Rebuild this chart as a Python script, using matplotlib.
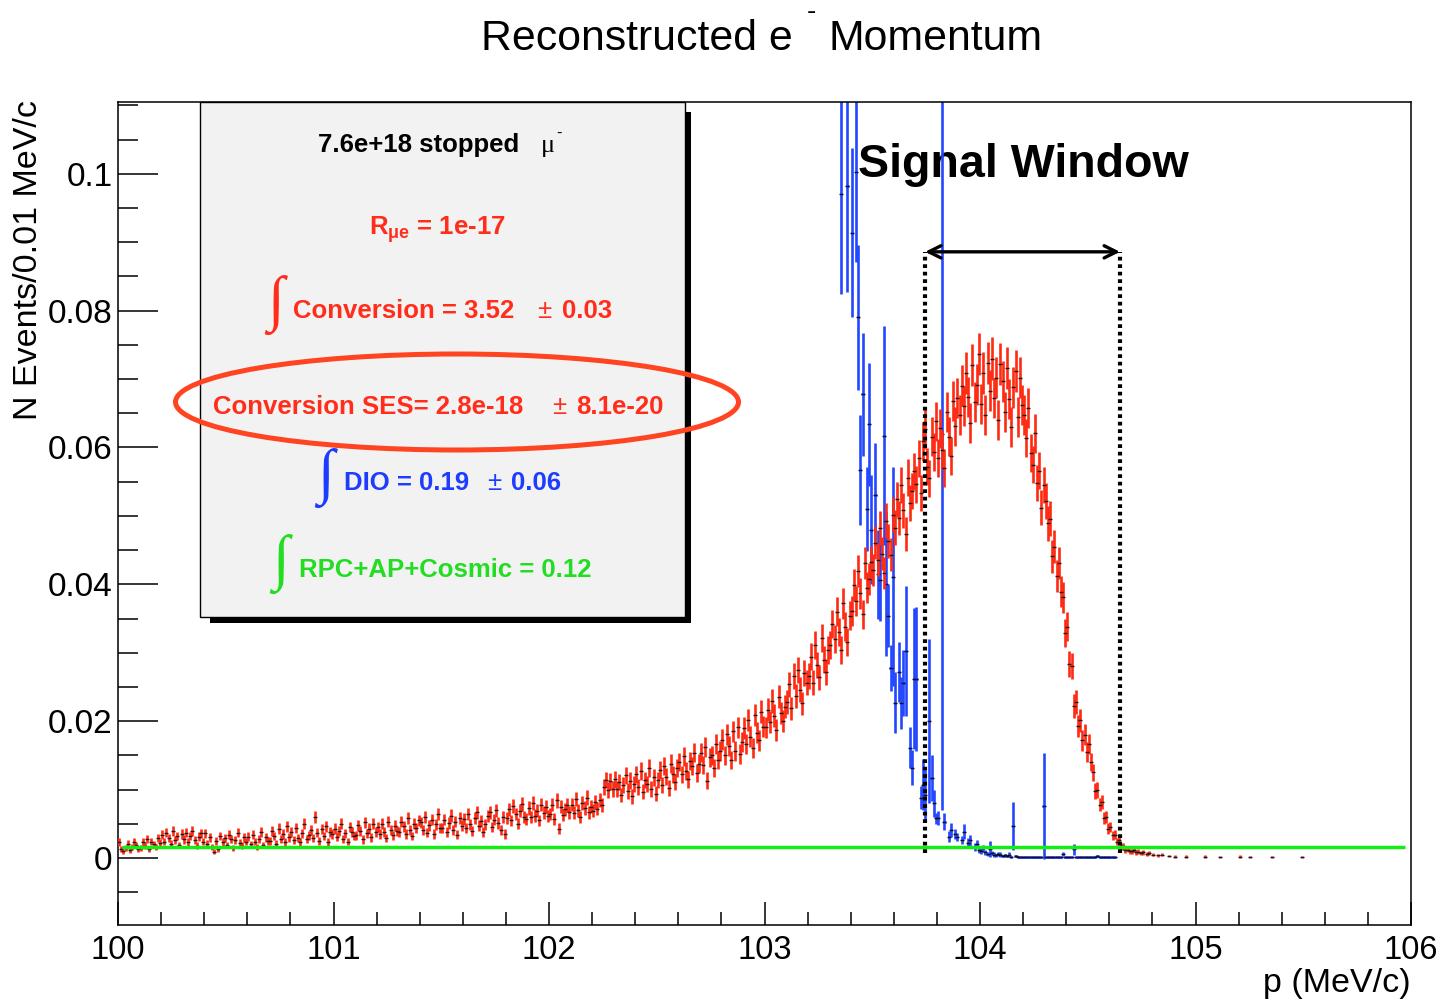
import numpy as np
import matplotlib
matplotlib.use("Agg")
import matplotlib.pyplot as plt
from matplotlib.patches import Rectangle, Ellipse
from matplotlib.ticker import MultipleLocator, FixedLocator

# ---------------- data ----------------
bin_lo = 100.0
bin_width = 0.01
# Conversion electrons, N events / 0.01 MeV/c, in units of 1e-4 (bins from 100.00 to 104.70)
red_vals_e4 = [
    23, 13, 10, 14, 21, 11, 16, 24, 19, 13,
    15, 23, 18, 28, 13, 24, 20, 16, 29, 22,
    34, 24, 37, 29, 21, 39, 26, 32, 19, 35,
    27, 37, 23, 32, 40, 26, 18, 31, 36, 24,
    36, 21, 30, 16, 9, 25, 13, 32, 23, 29,
    19, 34, 28, 15, 26, 37, 22, 18, 30, 24,
    31, 20, 34, 24, 16, 28, 38, 19, 30, 25,
    25, 39, 32, 21, 43, 28, 35, 23, 46, 30,
    38, 26, 44, 29, 23, 36, 50, 28, 33, 41,
    29, 60, 37, 25, 42, 32, 46, 23, 38, 35,
    43, 31, 39, 50, 28, 36, 24, 45, 38, 32,
    33, 48, 40, 27, 52, 36, 43, 30, 50, 38,
    45, 35, 50, 38, 29, 53, 41, 33, 47, 40,
    38, 53, 46, 35, 58, 41, 32, 50, 44, 55,
    52, 41, 60, 37, 48, 56, 35, 49, 64, 44,
    44, 56, 38, 51, 62, 41, 53, 34, 59, 47,
    57, 44, 64, 49, 39, 59, 67, 47, 54, 38,
    49, 61, 67, 45, 56, 70, 51, 41, 60, 35,
    58, 71, 55, 76, 64, 50, 69, 79, 60, 57,
    73, 60, 81, 62, 69, 55, 78, 66, 75, 61,
    64, 78, 57, 84, 43, 75, 63, 71, 77, 67,
    78, 66, 86, 70, 60, 81, 73, 88, 67, 75,
    69, 82, 72, 85, 77, 104, 114, 99, 112, 101,
    115, 101, 111, 92, 106, 121, 98, 113, 90, 108,
    122, 104, 127, 97, 114, 108, 131, 101, 118, 94,
    114, 129, 106, 134, 119, 102, 138, 122, 111, 131,
    140, 122, 149, 127, 115, 142, 134, 154, 124, 138,
    154, 136, 162, 113, 147, 150, 131, 167, 143, 156,
    173, 150, 181, 163, 143, 185, 156, 191, 152, 169,
    190, 167, 202, 177, 161, 209, 183, 172, 214, 192,
    191, 217, 199, 229, 208, 187, 236, 212, 200, 221,
    228, 254, 219, 266, 237, 275, 246, 226, 270, 256,
    266, 294, 256, 311, 282, 264, 322, 290, 272, 304,
    311, 342, 320, 360, 330, 304, 372, 338, 316, 354,
    361, 399, 376, 420, 387, 356, 431, 395, 408, 432,
    421, 461, 436, 482, 445, 417, 493, 463, 443, 502,
    483, 524, 497, 545, 508, 474, 556, 519, 537, 565,
    546, 584, 533, 609, 627, 572, 555, 616, 594, 638,
    585, 628, 597, 570, 652, 616, 588, 668, 631, 672,
    648, 690, 660, 709, 674, 636, 720, 666, 692, 737,
    664, 709, 648, 724, 683, 730, 672, 702, 640, 722,
    697, 652, 716, 671, 630, 688, 712, 645, 702, 662,
    648, 614, 657, 592, 575, 621, 548, 566, 512, 545,
    522, 489, 496, 441, 455, 412, 431, 389, 381, 329,
    338, 284, 280, 222, 228, 193, 201, 172, 180, 155,
    166, 140, 125, 98, 99, 78, 82, 58, 60, 43,
    45, 33, 34, 24, 26, 16, 17, 11, 12, 10,
]
# sparse conversion tail above 104.7 MeV/c
red_tail_p = [104.705, 104.715, 104.725, 104.735, 104.745, 104.755, 104.775, 104.785,
              104.805, 104.825, 104.845, 104.875, 104.905, 104.955, 105.045, 105.115,
              105.205, 105.255, 105.355, 105.495]
red_tail_e4 = [10, 12, 8, 9, 7, 8, 6, 7, 5, 4, 5, 3, 2, 2, 2, 1, 2, 1, 1, 1]
red_event_weight = 1.3e-4   # per-event weight -> Poisson error sqrt(N)*w

# DIO (decay in orbit): bin centre, value, error
blue_p = [103.355, 103.385, 103.405, 103.425, 103.435, 103.445, 103.455, 103.475, 103.485,
          103.495, 103.515, 103.525, 103.535, 103.555, 103.565, 103.575, 103.585, 103.595,
          103.605, 103.625, 103.635, 103.645, 103.655, 103.675, 103.685, 103.695, 103.705,
          103.725, 103.735, 103.745, 103.765, 103.775, 103.785, 103.795, 103.805, 103.825,
          103.835, 103.855, 103.865, 103.885, 103.895, 103.915, 103.925, 103.945, 103.955,
          103.975, 103.985, 103.995, 104.005, 104.015, 104.025, 104.035, 104.045, 104.055,
          104.065, 104.075, 104.085, 104.095, 104.105, 104.115, 104.125, 104.135, 104.145,
          104.155, 104.165, 104.175]
blue_v = [0.0970, 0.0982, 0.0914, 0.1003, 0.0790, 0.0567, 0.0678, 0.0510, 0.0634,
          0.0480, 0.0531, 0.0415, 0.0406, 0.0617, 0.0400, 0.0354, 0.0278, 0.0411,
          0.0227, 0.0272, 0.0227, 0.0256, 0.0303, 0.0161, 0.0132, 0.0262, 0.0262,
          0.0088, 0.0107, 0.0092, 0.0200, 0.0117, 0.0080, 0.0058, 0.0058, 0.0620,
          0.0053, 0.0031, 0.0041, 0.0035, 0.0031, 0.0026, 0.0038, 0.0022, 0.0026,
          0.0016, 0.0020, 0.0012, 0.0010, 0.0014, 0.0008, 0.0006, 0.0013, 0.0007,
          0.0005, 0.0004, 0.0006, 0.0005, 0.0003, 0.0004, 0.0003, 0.0005, 0.0002,
          0.0047, 0.0003, 0.0002]
blue_e = [0.0145, 0.0155, 0.0124, 0.0132, 0.0106, 0.0080, 0.0090, 0.0062, 0.0090,
          0.0080, 0.0075, 0.0065, 0.0060, 0.0160, 0.0105, 0.0046, 0.0034, 0.0160,
          0.0045, 0.0044, 0.0038, 0.0048, 0.0095, 0.0030, 0.0026, 0.0103, 0.0105,
          0.0017, 0.0037, 0.0037, 0.0120, 0.0034, 0.0020, 0.0008, 0.0010, 0.0550,
          0.0012, 0.0008, 0.0010, 0.0008, 0.0006, 0.0006, 0.0011, 0.0007, 0.0008,
          0.0006, 0.0006, 0.0005, 0.0004, 0.0005, 0.0004, 0.0003, 0.0012, 0.0003,
          0.0003, 0.0002, 0.0003, 0.0003, 0.0002, 0.0002, 0.0002, 0.0003, 0.0001,
          0.0035, 0.0002, 0.0001]
# DIO tail, consecutive bins starting at 104.18 MeV/c, units of 1e-4
blue_tail_start = 104.18
blue_tail_e4 = [1, 1, 1, 1, 1, 1, 1, 1, 1, 1, 1, 76, 1, 1, 1, 1, 1, 1, 1, 1,
                6, 1, 1, 1, 1, 13, 1, 1, 1, 1, 1, 1, 1, 1, 1, 1, 3, 1, 1, 1, 1, 1, 1, 1, 1]
blue_tail_err_e4 = [1, 1, 1, 1, 1, 1, 1, 1, 1, 1, 1, 77, 1, 1, 1, 1, 1, 1, 1, 1,
                    3, 1, 1, 1, 1, 8, 1, 1, 1, 1, 1, 1, 1, 1, 1, 1, 2, 1, 1, 1, 1, 1, 1, 1, 1]

# RPC + AP + Cosmic background level
green_level = 0.00165
green_range = [100.02, 105.97]

# signal window
window = [103.745, 104.65]
window_y = [0.0007, 0.0886]

y_major = [0.0, 0.02, 0.04, 0.06, 0.08, 0.1]
y_major_labels = ["0", "0.02", "0.04", "0.06", "0.08", "0.1"]
x_major = [100, 101, 102, 103, 104, 105, 106]
x_major_labels = ["100", "101", "102", "103", "104", "105", "106"]

# ---------------- style ----------------
plt.rcParams['font.family'] = ['Liberation Sans', 'DejaVu Sans']
plt.rcParams['mathtext.fontset'] = 'custom'
plt.rcParams['mathtext.rm'] = 'Liberation Sans'
plt.rcParams['mathtext.it'] = 'Liberation Sans:italic'
plt.rcParams['mathtext.bf'] = 'Liberation Sans:bold'
plt.rcParams['mathtext.default'] = 'regular'

RED = '#ff2a12'
RED_TXT = '#ff2d1a'
BLUE = '#2346ff'
BLUE_TXT = '#1e3cff'
GREEN = '#12ee12'
GREEN_TXT = '#22dd22'
ELL = '#ff4422'
INT_FAMILY = ['Liberation Serif', 'DejaVu Serif']

W, H = 1441, 1000
fig = plt.figure(figsize=(W / 100, H / 100), dpi=100)


def fx(x):
    return x / W


def fy(y):
    return 1 - y / H


ax = fig.add_axes([fx(118), fy(925), (1411 - 118) / W, (925 - 102) / H])
ax.set_xlim(100, 106)
ax.set_ylim(-0.0098, 0.1105)

# blue DIO
ax.errorbar(blue_p, blue_v, yerr=blue_e, xerr=bin_width / 2, fmt='none', ecolor=BLUE,
            elinewidth=1.9, capsize=0, zorder=2)
bt = np.array(blue_tail_e4) * 1e-4
bt_e = np.array(blue_tail_err_e4) * 1e-4
bt_p = blue_tail_start + bin_width * (np.arange(len(bt)) + 0.5)
ax.errorbar(bt_p, bt, yerr=bt_e, xerr=bin_width / 2, fmt='none', ecolor=BLUE,
            elinewidth=1.9, capsize=0, zorder=2)
ax.plot(blue_p, blue_v, ls='none', marker='_', ms=3, mew=1.0, color='#101010', zorder=2.1)
ax.plot(bt_p, bt, ls='none', marker='_', ms=3, mew=1.0, color='#101040', zorder=2.1)

# red conversion
rv = np.array(red_vals_e4) * 1e-4
rp = bin_lo + bin_width * (np.arange(len(rv)) + 0.5)
rtp = np.array(red_tail_p)
rtv = np.array(red_tail_e4) * 1e-4
allp = np.concatenate([rp, rtp])
allv = np.concatenate([rv, rtv])
alle = np.sqrt(allv * red_event_weight)
ax.errorbar(allp, allv, yerr=alle, fmt='none', ecolor=RED, elinewidth=1.9, capsize=0, zorder=3)
ax.plot(allp, allv, ls='none', marker='_', ms=3, mew=1.0, color='#1a1a1a', zorder=3.1)

# green background
ax.plot(green_range, [green_level, green_level], color=GREEN, lw=2.5, zorder=4,
        solid_capstyle='butt')

# signal window
for xw in window:
    ax.plot([xw, xw], window_y, color='k', lw=3.0, linestyle=(0, (0.9, 0.9)), zorder=5)
ax.annotate('', xy=(window[1], window_y[1]), xytext=(window[0], window_y[1]),
            arrowprops=dict(arrowstyle='<->', color='k', lw=2.4, shrinkA=0, shrinkB=0,
                            mutation_scale=22), zorder=5)
ax.text(103.434, 0.09956, "Signal Window", fontsize=33.6, fontweight='bold', ha='left',
        va='baseline', color='k', zorder=1.5)

# axes / ticks
for s in ax.spines.values():
    s.set_linewidth(1.1)
ax.xaxis.set_major_locator(FixedLocator(x_major))
ax.xaxis.set_minor_locator(MultipleLocator(0.2))
ax.yaxis.set_major_locator(FixedLocator(y_major))
ax.yaxis.set_minor_locator(MultipleLocator(0.005))
ax.set_xticklabels(x_major_labels)
ax.set_yticklabels(y_major_labels)
ax.tick_params(axis='y', which='major', direction='in', length=28.8, width=1.1, right=False,
               labelsize=24, pad=4)
ax.tick_params(axis='y', which='minor', direction='in', length=14.4, width=1.1, right=False)
ax.tick_params(axis='x', which='major', direction='in', length=16.6, width=1.1, top=False,
               labelsize=23.5, pad=7.5)
ax.tick_params(axis='x', which='minor', direction='in', length=9.4, width=1.1, top=False)

# axis titles
fig.text(fx(29), fy(100), "N Events/0.01 MeV/c", rotation=90, ha='center', va='top',
         fontsize=24.5)
fig.text(fx(1411), fy(992), "p (MeV/c)", ha='right', va='baseline', fontsize=24.5)

# title
fig.text(fx(793), fy(50), "Reconstructed e", ha='right', va='baseline', fontsize=30.8)
fig.text(fx(811), fy(12), "-", ha='center', va='center', fontsize=20)
fig.text(fx(828), fy(50), "Momentum", ha='left', va='baseline', fontsize=30.8)

# stats box with shadow
fig.add_artist(Rectangle((fx(210), fy(623)), (691 - 210) / W, (623 - 112) / H,
                         transform=fig.transFigure, facecolor='black', edgecolor='none', zorder=5))
fig.add_artist(Rectangle((fx(200), fy(617)), (685 - 200) / W, (617 - 102) / H,
                         transform=fig.transFigure, facecolor='#f2f2f2', edgecolor='black',
                         lw=1.0, zorder=6))

TS = 18.5
fig.text(fx(318), fy(152), "7.6e+18 stopped", ha='left', va='baseline', fontsize=TS,
         fontweight='bold', color='black', zorder=7)
fig.text(fx(541), fy(152), "μ", ha='left', va='baseline', fontsize=19,
         family=['Liberation Serif', 'DejaVu Serif'], color='black', zorder=7)
fig.text(fx(559), fy(138), "-", ha='center', va='baseline', fontsize=12, color='black', zorder=7)

fig.text(fx(369), fy(235), r"R$_{\mu e}$ = 1e-17", ha='left', va='baseline', fontsize=TS,
         fontweight='bold', color=RED_TXT, zorder=7)

INT_FS = 44
fig.text(fx(276), fy(305), "∫", ha='center', va='center', fontsize=INT_FS, color=RED_TXT,
         family=INT_FAMILY, zorder=7)
fig.text(fx(293), fy(318), "Conversion = 3.52", ha='left', va='baseline', fontsize=TS,
         fontweight='bold', color=RED_TXT, zorder=7)
fig.text(fx(537), fy(318), "±", ha='left', va='baseline', fontsize=TS, color=RED_TXT, zorder=7)
fig.text(fx(562), fy(318), "0.03", ha='left', va='baseline', fontsize=TS, fontweight='bold',
         color=RED_TXT, zorder=7)

fig.text(fx(213), fy(414), "Conversion SES= 2.8e-18", ha='left', va='baseline', fontsize=TS,
         fontweight='bold', color=RED_TXT, zorder=7)
fig.text(fx(552), fy(414), "±", ha='left', va='baseline', fontsize=TS, color=RED_TXT, zorder=7)
fig.text(fx(576), fy(414), "8.1e-20", ha='left', va='baseline', fontsize=TS, fontweight='bold',
         color=RED_TXT, zorder=7)

fig.text(fx(326), fy(478), "∫", ha='center', va='center', fontsize=INT_FS, color=BLUE_TXT,
         family=INT_FAMILY, zorder=7)
fig.text(fx(344), fy(490), "DIO = 0.19", ha='left', va='baseline', fontsize=TS,
         fontweight='bold', color=BLUE_TXT, zorder=7)
fig.text(fx(487), fy(490), "±", ha='left', va='baseline', fontsize=TS, color=BLUE_TXT, zorder=7)
fig.text(fx(511), fy(490), "0.06", ha='left', va='baseline', fontsize=TS, fontweight='bold',
         color=BLUE_TXT, zorder=7)

fig.text(fx(281), fy(564), "∫", ha='center', va='center', fontsize=INT_FS, color=GREEN_TXT,
         family=INT_FAMILY, zorder=7)
fig.text(fx(299), fy(577), "RPC+AP+Cosmic = 0.12", ha='left', va='baseline', fontsize=TS,
         fontweight='bold', color=GREEN_TXT, zorder=7)

# highlight ellipse
fig.add_artist(Ellipse((fx(457), fy(402)), 563 / W, 96 / H, transform=fig.transFigure,
                       facecolor='none', edgecolor=ELL, lw=3.6, zorder=8))

fig.savefig("out.png", dpi=100)
